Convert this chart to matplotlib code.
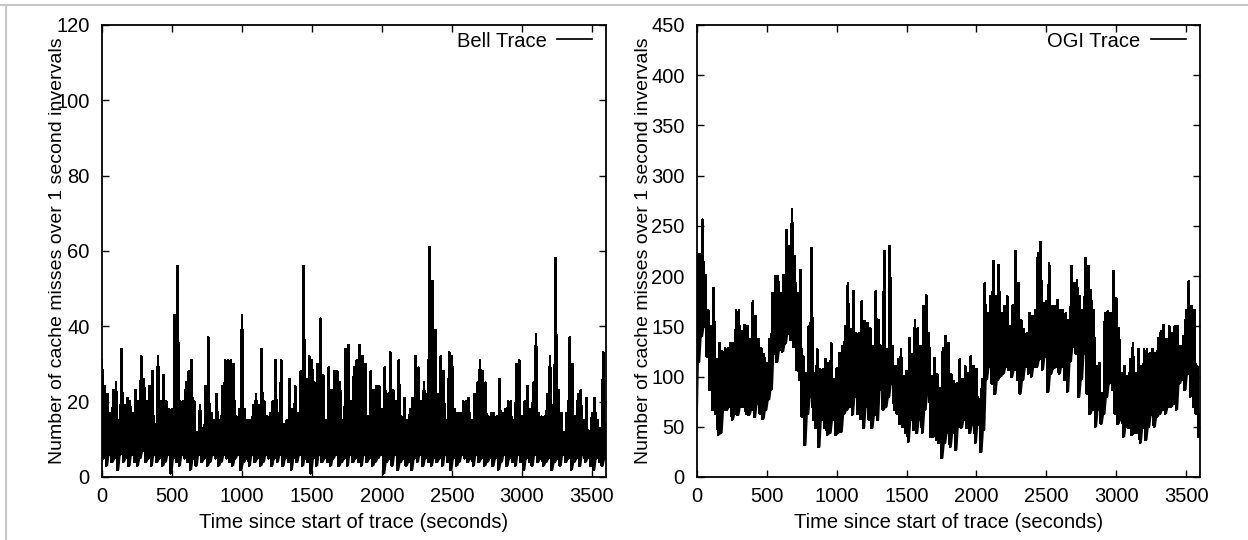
import numpy as np
import matplotlib
matplotlib.use('Agg')
import matplotlib.pyplot as plt
from matplotlib.lines import Line2D

plt.rcParams['font.family'] = ['Liberation Sans', 'DejaVu Sans']

# Per-interval readings: "hi" at t = 0, 20, ..., 3580 and "lo" at t = 10, 30, ..., 3590
hi_times = np.arange(0, 3600, 20)
lo_times = hi_times + 10

bell_hi = [31, 24, 22, 17, 23, 25, 15, 34, 19, 21,
           20, 17, 23, 20, 32, 26, 20, 24, 28, 14,
           32, 20, 27, 20, 18, 18, 43, 56, 20, 20,
           25, 28, 31, 20, 12, 19, 13, 24, 37, 17,
           15, 22, 15, 24, 31, 31, 31, 30, 16, 18,
           43, 18, 15, 15, 19, 22, 19, 34, 20, 16,
           17, 20, 31, 17, 31, 14, 15, 26, 18, 24,
           17, 28, 56, 26, 32, 31, 25, 30, 42, 27,
           15, 29, 23, 28, 28, 25, 15, 34, 35, 20,
           29, 31, 35, 32, 30, 16, 28, 23, 24, 24,
           18, 29, 22, 33, 23, 20, 31, 16, 21, 15,
           18, 21, 32, 29, 20, 25, 22, 61, 52, 39,
           22, 32, 28, 15, 33, 32, 18, 17, 17, 20,
           20, 21, 15, 22, 25, 31, 28, 25, 16, 17,
           17, 16, 26, 17, 18, 20, 20, 15, 30, 31,
           16, 20, 24, 18, 25, 38, 17, 16, 16, 22,
           32, 19, 58, 23, 17, 12, 17, 37, 30, 16,
           22, 23, 15, 21, 12, 17, 21, 15, 13, 33]

bell_lo = [5, 3, 6, 4, 5, 2, 6, 4, 5, 3,
           6, 4, 3, 5, 7, 4, 5, 3, 6, 4,
           5, 3, 4, 6, 1, 5, 4, 3, 6, 5,
           4, 2, 5, 3, 6, 4, 5, 3, 4, 6,
           5, 3, 4, 6, 5, 4, 3, 5, 6, 2,
           4, 5, 3, 6, 4, 5, 3, 4, 6, 5,
           3, 5, 4, 6, 3, 5, 4, 2, 5, 4,
           6, 3, 5, 4, 1, 5, 3, 6, 4, 5,
           4, 3, 5, 6, 3, 4, 5, 3, 6, 4,
           5, 4, 3, 6, 4, 5, 3, 4, 5, 6,
           1, 4, 5, 3, 6, 2, 4, 5, 3, 4,
           2, 5, 4, 6, 3, 5, 4, 3, 5, 4,
           5, 3, 6, 4, 2, 5, 3, 4, 6, 5,
           4, 5, 3, 6, 4, 5, 3, 4, 5, 3,
           5, 2, 4, 6, 3, 5, 4, 3, 6, 4,
           2, 5, 4, 3, 6, 4, 5, 3, 4, 5,
           2, 4, 5, 3, 6, 4, 5, 2, 4, 5,
           3, 6, 4, 5, 3, 2, 5, 4, 3, 5]

ogi_hi = [221, 222, 256, 201, 166, 150, 188, 117, 133, 125,
          128, 128, 133, 133, 166, 166, 145, 151, 150, 137,
          175, 160, 137, 128, 122, 113, 137, 183, 200, 200,
          183, 201, 246, 230, 266, 220, 183, 206, 120, 103,
          150, 228, 103, 127, 107, 107, 117, 113, 133, 97,
          108, 123, 130, 150, 193, 147, 185, 143, 143, 175,
          155, 153, 148, 130, 185, 156, 130, 225, 127, 230,
          130, 110, 117, 127, 100, 105, 138, 122, 156, 148,
          130, 170, 181, 143, 100, 118, 102, 88, 128, 140,
          133, 102, 95, 93, 117, 97, 110, 103, 120, 110,
          107, 77, 97, 193, 163, 180, 215, 180, 211, 163,
          170, 180, 150, 171, 225, 193, 156, 147, 143, 163,
          160, 166, 223, 234, 173, 175, 213, 170, 170, 176,
          166, 166, 163, 156, 210, 193, 196, 180, 166, 218,
          210, 186, 166, 110, 113, 83, 163, 165, 163, 205,
          178, 148, 103, 110, 100, 117, 133, 103, 127, 110,
          127, 127, 123, 127, 123, 138, 145, 151, 137, 150,
          143, 150, 150, 130, 140, 166, 195, 170, 166, 110]

ogi_lo = [115, 140, 150, 120, 87, 67, 63, 42, 44, 67,
          67, 70, 57, 63, 62, 70, 70, 63, 62, 67,
          60, 73, 63, 58, 67, 77, 87, 123, 115, 127,
          125, 133, 143, 137, 130, 107, 97, 60, 32, 63,
          80, 57, 49, 30, 57, 49, 42, 44, 57, 42,
          44, 45, 63, 67, 70, 62, 80, 63, 58, 49,
          70, 57, 49, 62, 57, 87, 67, 70, 80, 93,
          67, 63, 53, 50, 44, 35, 57, 47, 44, 57,
          44, 67, 83, 40, 40, 37, 34, 19, 34, 44,
          30, 44, 27, 50, 49, 57, 49, 44, 52, 34,
          52, 25, 47, 97, 110, 93, 83, 97, 100, 103,
          110, 107, 100, 107, 97, 83, 97, 110, 103, 100,
          110, 110, 117, 107, 120, 85, 103, 108, 110, 103,
          110, 97, 85, 115, 130, 123, 80, 97, 123, 83,
          63, 67, 50, 67, 53, 63, 80, 93, 87, 63,
          53, 57, 40, 50, 49, 42, 44, 44, 34, 49,
          37, 50, 62, 50, 60, 63, 67, 63, 70, 70,
          73, 67, 93, 97, 87, 103, 80, 70, 63, 40]


def trace(hi, lo):
    # interleave the hi/lo readings into one time-ordered trace
    t = np.empty(2 * len(hi_times))
    v = np.empty(2 * len(hi_times))
    t[0::2] = hi_times
    t[1::2] = lo_times
    v[0::2] = hi
    v[1::2] = lo
    return t, v


FS = 14.5
YLABEL = 'Number of cache misses over 1 second invervals'
XLABEL = 'Time since start of trace (seconds)'

fig = plt.figure(figsize=(12.48, 5.4), dpi=100)
ax1 = fig.add_axes([102 / 1248, 63 / 540, 504 / 1248, 452 / 540])
ax2 = fig.add_axes([697 / 1248, 63 / 540, 503 / 1248, 452 / 540])

panels = [
    (ax1, bell_hi, bell_lo, 'Bell Trace', 120, 20, -0.072),
    (ax2, ogi_hi, ogi_lo, 'OGI Trace', 450, 50, -0.089),
]

for ax, hi, lo, name, ymax, ystep, ylab_x in panels:
    t, v = trace(hi, lo)
    # shade between the trace and its one-step-lagged copy so the
    # dense part of the band comes out solid, like the 1 s original
    ax.fill_between(t, v, np.minimum(v, np.roll(v, 1)), color='black', lw=0,
                    antialiased=False)
    ax.plot(t, v, color='black', lw=1.25, antialiased=False, label=name)
    ax.set_xlim(0, 3600)
    ax.set_ylim(0, ymax)
    ax.set_xticks(np.arange(0, 3501, 500))
    ax.set_yticks(np.arange(0, ymax + 1, ystep))
    ax.tick_params(direction='in', length=5, width=1, top=True, right=True,
                   labelsize=FS, colors='black')
    ax.tick_params(axis='y', pad=9)
    ax.tick_params(axis='x', pad=7)
    for s in ax.spines.values():
        s.set_linewidth(1.3)
    ax.set_xlabel(XLABEL, fontsize=FS)
    ax.xaxis.set_label_coords(0.5, -0.08)
    ax.set_ylabel(YLABEL, fontsize=14)
    ax.yaxis.set_label_coords(ylab_x, 0.5)
    ax.legend(loc='center right', bbox_to_anchor=(0.972, 0.9646), frameon=False,
              markerfirst=False, handlelength=1.75, handletextpad=0.5,
              borderpad=0, borderaxespad=0, fontsize=FS)

# light grey frame on top and left of the image
fig.add_artist(Line2D([0, 1], [1 - 5 / 540, 1 - 5 / 540], color='#c8c8c8', lw=1.5,
                      transform=fig.transFigure))
fig.add_artist(Line2D([5.5 / 1248, 5.5 / 1248], [0, 1 - 5 / 540], color='#c8c8c8', lw=1.5,
                      transform=fig.transFigure))

fig.savefig('out.png', dpi=100)
